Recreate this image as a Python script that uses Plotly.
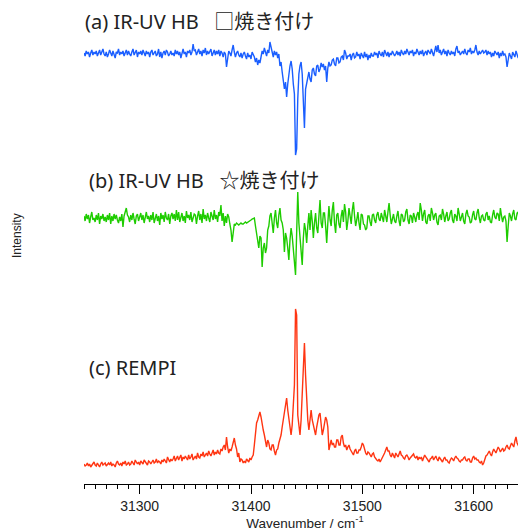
import numpy as np
import plotly.graph_objects as go

# wavenumber grid (cm^-1), 1 cm^-1 steps
wavenumber = np.arange(31250, 31650, 1)

# (a) IR-UV hole burning, square site (relative intensity, baseline = 0)
ir_uv_a = [
    1, -2, 3, 0, 2, -3, 1, 4, -1, 2, 0, 3, -2, 1, 4, -1, 2, 5, 0, -2,
    2, -3, 0, 4, 1, -2, 3, 0, -4, 2, 1, 5, -1, 2, 0, 3, -2, 1, 4, -1,
    3, 0, -2, 2, 5, -1, 1, 4, -3, 2, 0, 3, -1, 4, 1, -2, 3, 0, 2, -3,
    2, 4, -1, 1, 3, -2, 0, 5, -3, 2, -4, 1, 3, -1, 4, 2, -2, 0, 3, -1,
    1, -2, 4, 0, 3, -1, 2, -4, 1, 5, 0, 2, -3, 3, 1, 4, -1, 2, 10, 3,
    4, -1, 2, 5, 0, 3, -2, 4, 1, 6, -1, 3, 0, 2, 5, -2, 1, 4, -1, 3,
    0, 4, -2, 3, 1, -3, 2, 0, -13, -4, 3, 1, -2, 4, 9, 2, -3, 1, 3, -1,
    -3, 1, -4, 0, 2, -2, -5, 1, -3, -1, -5, 2, 0, -3, -8, -4, -11, -6, -9, -2,
    3, 0, 6, 2, -2, 4, 1, 12, 5, 2, -3, 3, -1, 2, -4, 0, -12, -8, -18, -25,
    -35, -28, -43, -30, -20, -12, -7, -15, -30, -40, -101, -95, -45, -20, -12, -8, -20, -60, -74, -35,
    -30, -22, -18, -25, -28, -16, -14, -20, -22, -12, -11, -18, -15, -9, -13, -10, -16, -12, -28, -14,
    -8, -12, -11, -6, -5, -10, -12, -4, -4, -9, -8, -3, -2, -6, 4, 1, -5, -2, -2, 0,
    -6, -1, 1, -4, -3, 2, -2, 0, -5, 1, -1, -4, 2, -3, 0, -6, -1, -4, 1, -2,
    -2, 2, -1, 1, -4, 3, 0, -2, 2, -3, 4, 1, -2, 2, -3, 1, -1, 3, 0, -2,
    0, 3, -1, 2, -2, 4, 1, -1, 3, 0, 5, 2, -1, 3, 1, 4, -2, 2, 0, 5,
    2, -1, 3, 0, 4, -2, 1, 3, -1, 4, 2, 0, 5, 1, -2, 3, 8, 2, 9, 1,
    4, -1, 2, 5, 0, 3, -2, 4, 1, -1, 3, 0, 2, -2, 5, 8, 1, 3, -1, 2,
    3, 0, 5, 1, -1, 4, 2, 6, 0, 3, 1, 4, 9, 2, -1, 3, 0, 2, 4, 1,
    2, 4, -1, 3, 0, 2, -3, 1, -2, 3, 0, -1, 2, -4, 1, -2, 3, -1, 0, -3,
    -13, -6, 1, -2, -5, 2, -1, -3, 3, 0, -4, 2, -2, 1, 3, -1, 0, 2, -2, 1,
]

# (b) IR-UV hole burning, star site
ir_uv_b = [
    2, -3, 4, -1, 3, -5, 1, 6, -2, 0, -4, 3, -2, 5, -6, 2, -1, 4, -3, 1,
    -4, 3, -2, 5, -6, 2, -3, 4, -1, 3, -2, -5, 1, -3, 4, -9, 2, 6, 10, 3,
    1, -4, 3, -2, 5, -1, -6, 2, 4, -3, 0, 5, -2, 3, -5, 1, 6, -1, 2, -4,
    3, -2, 6, -5, 1, 4, -3, 2, -7, 5, -1, 3, -4, 6, 0, -2, 4, -6, 2, 5,
    -1, 4, -3, 8, -2, 6, -4, 1, 5, -3, 2, -5, 7, 0, 3, -2, 6, -4, 1, 4,
    3, -6, 2, 7, -2, 4, -5, 9, -1, 3, -3, 5, 0, -4, 6, 2, -2, 8, -1, 3,
    -4, 6, 2, 13, -3, 5, -8, 2, -5, 4, 1, -6, -12, -24, -15, -6, -7, -5, -6, -7,
    -6, -5, -6, -6, -5, -4, -5, -4, -3, -3, -2, -1, 0, 0, -8, -15, -22, -30, -18, -20,
    -49, -30, -25, -35, -30, -12, -8, 2, 5, -3, -15, 0, 8, -5, -10, 3, 10, -2, -5, -12,
    -34, -15, -20, -30, -42, -22, -10, -18, -30, -45, -57, -15, 26, -5, -20, -35, -47, -20, -5, -12,
    -25, -8, 5, -12, 8, -3, -20, -5, 5, -10, -15, 2, 18, -5, -10, 5, 5, -8, -25, -5,
    12, -2, -8, 8, 16, -5, -15, 3, 5, -6, -10, 2, 8, -4, 14, 6, -12, -3, 10, 2,
    -6, 8, 16, 2, -8, -2, 6, -5, -12, 4, 3, -6, -7, -12, -10, 2, 2, -4, -8, 3,
    4, -2, -5, 3, 6, -1, -3, 5, 0, -4, 8, 2, -4, 6, 15, 3, -6, -1, 4, -3,
    -5, 2, 7, -3, -8, 4, 3, -4, -2, 6, 9, -2, -6, 3, 2, -5, 5, 1, -4, 3,
    6, -2, 15, 8, -3, 4, 8, -4, -6, 2, 4, -3, 10, 5, -2, 3, 5, -4, -7, 2,
    3, -2, 9, 4, -4, 2, 6, -3, -1, 5, 8, -2, -5, 4, 2, -3, 10, 4, -3, 1,
    5, -3, -6, 4, 8, 2, 1, -5, -4, 3, 7, -1, -2, 5, 9, 0, -5, 2, 3, -2,
    -3, 4, 6, -2, 2, -4, -5, 3, 8, 1, -1, 5, 4, -3, 10, 2, -4, 1, 2, -3,
    -24, -8, 5, 2, -3, 4, 8, -1, -2, 5, 6, -3, -6, 2, 3, -2, 7, 4, -2, 1,
]

# (c) REMPI
rempi = [
    1, -1, 0, 2, -1, 1, -2, 0, 1, 3, 0, -1, 2, 0, -2, 1, 3, 0, 1, 2,
    -1, 1, 2, 0, 3, -1, 1, 0, -2, 2, 4, 1, 0, 2, -1, 3, 1, 4, 0, 1,
    3, 0, 1, 4, 2, 0, 5, 2, 1, 3, 0, 4, 2, 1, 5, 3, 2, 0, 4, 3,
    1, 4, 5, 2, 3, 6, 2, 4, 3, 1, 5, 3, 6, 4, 2, 8, 5, 3, 6, 4,
    6, 9, 4, 7, 9, 5, 7, 10, 4, 8, 6, 9, 7, 5, 10, 6, 8, 11, 5, 7,
    9, 6, 12, 8, 7, 11, 9, 13, 8, 10, 12, 9, 14, 11, 9, 12, 15, 10, 13, 11,
    15, 12, 11, 16, 14, 18, 20, 15, 28, 18, 12, 16, 14, 18, 22, 27, 20, 16, 8, 12,
    3, 6, 5, 2, 4, 2, 6, 4, 3, 7, 5, 8, 10, 20, 35, 42, 45, 50, 53, 48,
    40, 35, 30, 22, 18, 25, 22, 16, 15, 20, 20, 14, 10, 15, 16, 22, 25, 30, 38, 45,
    50, 60, 67, 55, 45, 35, 30, 40, 55, 80, 156, 150, 50, 38, 30, 45, 70, 105, 122, 90,
    60, 45, 35, 50, 55, 45, 40, 32, 30, 38, 45, 50, 52, 40, 30, 35, 40, 48, 45, 38,
    15, 22, 25, 20, 22, 18, 18, 25, 25, 20, 20, 28, 30, 22, 18, 20, 15, 18, 20, 16,
    14, 12, 10, 14, 16, 12, 12, 15, 15, 18, 22, 20, 14, 12, 10, 13, 12, 9, 8, 11,
    12, 8, 6, 5, 4, 6, 3, 5, 8, 10, 12, 15, 18, 14, 14, 10, 8, 12, 10, 7,
    12, 9, 8, 11, 14, 10, 9, 7, 6, 9, 10, 8, 5, 7, 8, 10, 11, 8, 7, 9,
    5, 8, 6, 8, 4, 7, 10, 8, 6, 4, 3, 6, 7, 9, 5, 7, 9, 6, 4, 8,
    6, 4, 3, 6, 8, 5, 5, 3, 2, 5, 7, 6, 4, 7, 9, 7, 6, 4, 3, 5,
    5, 7, 8, 5, 4, 6, 6, 3, 3, 7, 9, 6, 7, 5, 5, 3, 2, 4, 0, 2,
    6, 9, 10, 12, 14, 11, 9, 13, 16, 14, 12, 15, 18, 16, 13, 15, 17, 14, 15, 18,
    20, 17, 16, 19, 22, 20, 18, 24, 28, 22, 20, 18, 15, 17, 12, 14, 16, 13, 14, 15,
]

labels = ["(a) IR-UV HB\u00a0\u00a0\u00a0□焼き付け",
          "(b) IR-UV HB\u00a0\u00a0\u00a0☆焼き付け",
          "(c) REMPI"]
x_ticks = [31300, 31400, 31500, 31600]

# stacking offsets (layout only)
offsets = [430, 266, 19]
colors = ["#1A5EFF", "#1ECC00", "#FF3512"]
series = [ir_uv_a, ir_uv_b, rempi]

FONT = "Liberation Sans, Helvetica, Arial, Noto Sans CJK JP, sans-serif"
LABEL_FONT = "Noto Sans, Noto Sans CJK JP, sans-serif"

# page has an 8px body margin: figure coordinates = page coordinates - 8
W, H = 518, 523
L, R, T, B = 76, 0, 0, 47
pw, ph = W - L - R, H - T - B

fig = go.Figure()
for s, off, c in zip(series, offsets, colors):
    fig.add_trace(go.Scatter(
        x=wavenumber, y=np.array(s) + off, mode="lines",
        line=dict(color=c, width=1.4), showlegend=False, hoverinfo="skip"))

label_pos = [(83, 21), (87, 180), (87, 367)]  # page pixels
for txt, (px, py) in zip(labels, label_pos):
    fig.add_annotation(text=txt, xref="paper", yref="paper",
                       x=(px - 8 - L) / pw, y=1 - (py - 8 - T) / ph,
                       xanchor="left", yanchor="middle", showarrow=False,
                       font=dict(size=20, color="#222", family=LABEL_FONT))

fig.add_annotation(text="Intensity", textangle=-90, xref="paper", yref="paper",
                   x=(17 - 8 - L) / pw, y=1 - (236 - 8 - T) / ph, xanchor="center",
                   yanchor="middle", showarrow=False,
                   font=dict(size=12, color="#222", family=FONT))

fig.update_layout(
    width=W, height=H, margin=dict(l=L, r=R, t=T, b=B, pad=0),
    paper_bgcolor="white", plot_bgcolor="white",
    font=dict(family=FONT, color="#222"),
    xaxis=dict(range=[31250, 31647], tickvals=x_ticks, tickformat="d",
               showgrid=False, zeroline=False, showline=True,
               linecolor="black", linewidth=1, ticks="outside", ticklen=9,
               tickwidth=1, tickcolor="black", tickfont=dict(size=14, color="#222"),
               minor=dict(dtick=10, tick0=31250, ticks="outside", ticklen=4,
                          tickwidth=1, tickcolor="black", showgrid=False),
               title=dict(text="Wavenumber / cm<sup>-1</sup>",
                          font=dict(size=13.5, color="#222"), standoff=2),
               automargin=False),
    yaxis=dict(range=[0, ph], visible=False, fixedrange=True),
)

fig.write_html("out.html")
